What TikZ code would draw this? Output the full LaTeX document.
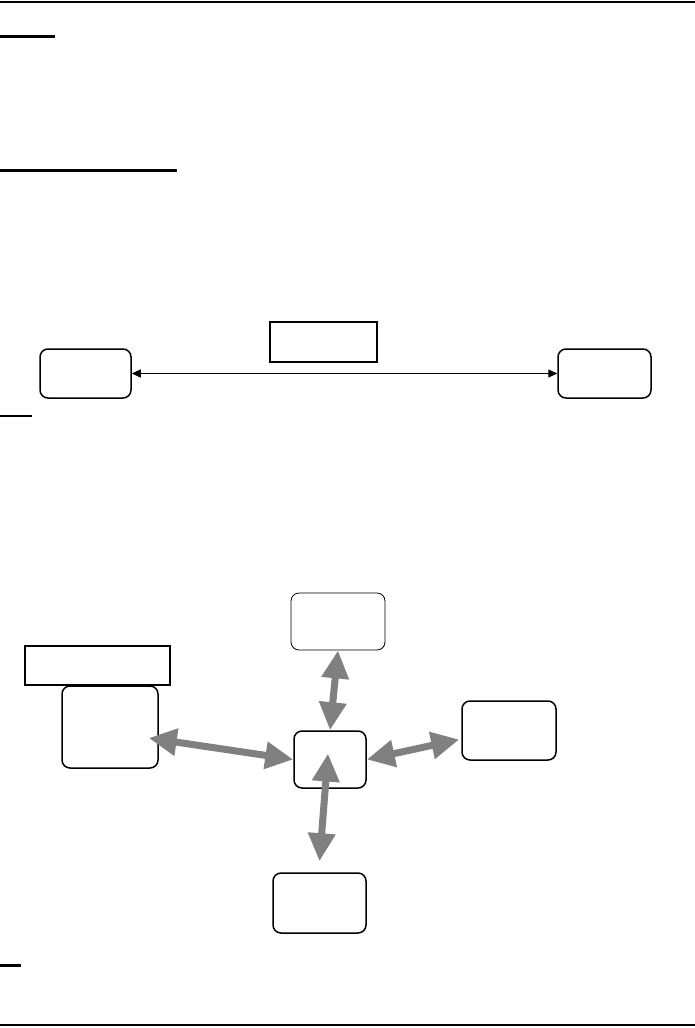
\documentclass[tikz,border=0pt]{standalone}
\usetikzlibrary{arrows.meta}
\begin{document}
\begin{tikzpicture}[x=1pt,y=-1pt,
  box/.style={draw,line width=1.5pt,rounded corners=8pt,inner sep=0pt},
  tag/.style={draw,line width=1.5pt,inner sep=0pt},
  link/.style={line width=7pt,gray,{Triangle[length=28pt,width=26pt]}-{Triangle[length=28pt,width=26pt]},shorten <=0pt,shorten >=0pt}]
\useasboundingbox (0,0) rectangle (695,1028);
% page rules
\draw[line width=2pt] (0,1.5)--(695,1.5);
\draw[line width=2pt] (0,1025)--(695,1025);
\draw[line width=3pt] (0,36)--(55,36);
\draw[line width=3pt] (0,170)--(177,170);
\draw[line width=2pt] (0,416)--(32,416);
\draw[line width=3pt] (0,965)--(21,965);
% first figure
\node[tag,minimum width=107pt,minimum height=40pt] (label1) at (323.5,342) {};
\node[box,minimum width=91pt,minimum height=49pt] (host) at (85.5,373.5) {};
\node[box,minimum width=93pt,minimum height=49pt] (peer) at (604.5,373.5) {};
\draw[line width=1.2pt,{Triangle[length=9pt,width=8pt]}-{Triangle[length=9pt,width=8pt]}] (host.east) -- (peer.west);
% second figure
\node[tag,minimum width=145pt,minimum height=39pt] (label2) at (97.5,665.5) {};
\node[box,line width=0.8pt,minimum width=94pt,minimum height=57pt] (top) at (338,621.5) {};
\node[box,minimum width=96pt,minimum height=82pt] (left) at (110,727) {};
\node[box,minimum width=72pt,minimum height=57pt] (hub) at (330,759.5) {};
\node[box,minimum width=94pt,minimum height=59pt] (right) at (509,730.5) {};
\node[box,minimum width=93pt,minimum height=60pt] (bottom) at (319.5,903) {};
\draw[link] (top.south) -- (hub.north);
\draw[link] ([shift={(-10,11)}]left.east) -- (hub.west);
\draw[link] ([shift={(-2,-6)}]hub.center) -- ([shift={(0,-11)}]bottom.north);
\draw[link] (hub.east) -- ([shift={(-2,9)}]right.west);
\end{tikzpicture}
\end{document}
